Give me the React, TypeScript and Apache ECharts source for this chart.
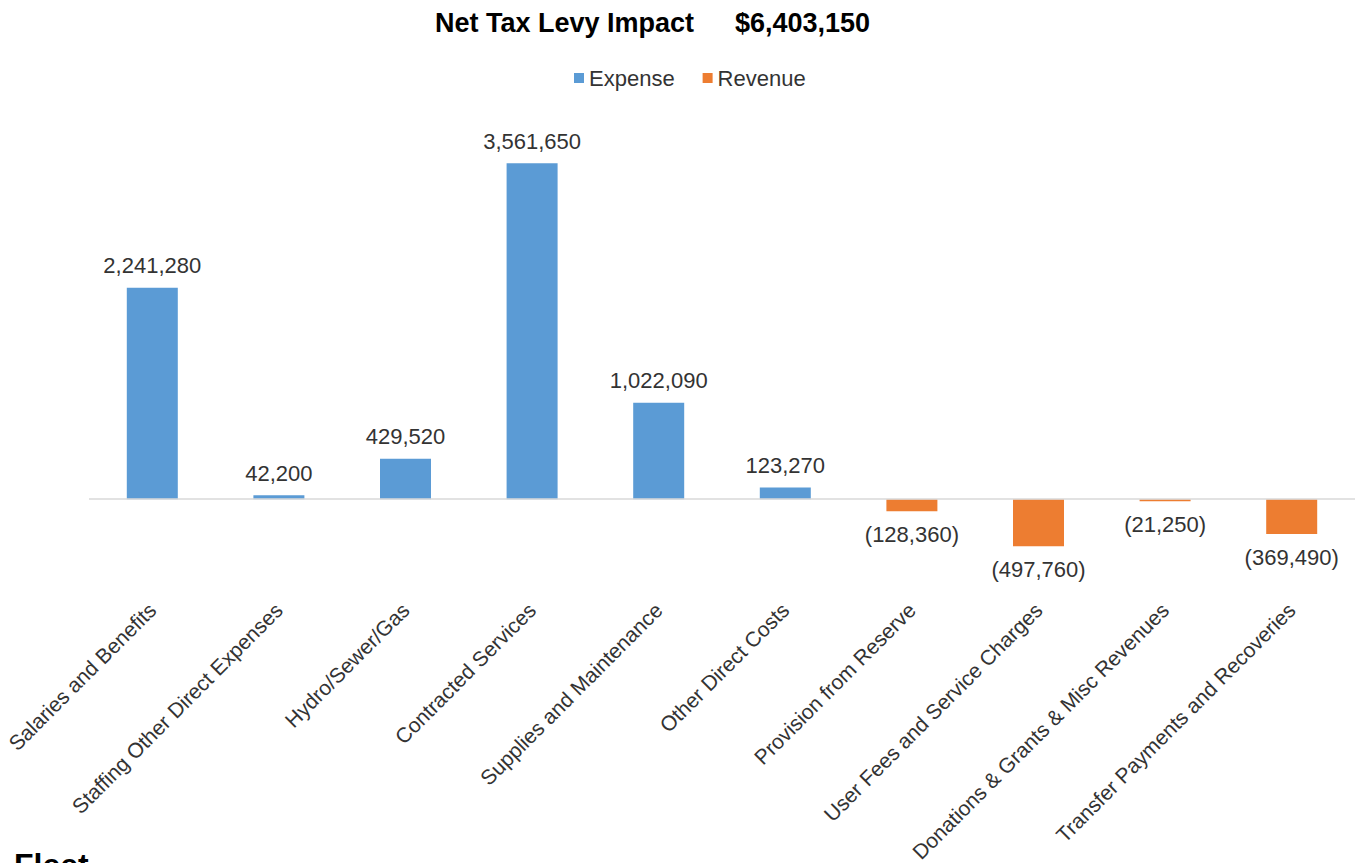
import React, { useEffect, useRef } from "react";
import * as echarts from "echarts";

const categories = [
  "Salaries and Benefits",
  "Staffing Other Direct Expenses",
  "Hydro/Sewer/Gas",
  "Contracted Services",
  "Supplies and Maintenance",
  "Other Direct Costs",
  "Provision from Reserve",
  "User Fees and Service Charges",
  "Donations & Grants & Misc Revenues",
  "Transfer Payments and Recoveries",
];

const expenseValues = [2241280, 42200, 429520, 3561650, 1022090, 123270, null, null, null, null];
const revenueValues = [null, null, null, null, null, null, -128360, -497760, -21250, -369490];

const titleText = "Net Tax Levy Impact";
const titleAmount = "$6,403,150";
const footerText = "Fleet";

const FONT = "'Liberation Sans', Arial, sans-serif";
const TEXT_COLOR = "#333333";

function fmt(v: number): string {
  const s = Math.abs(v).toLocaleString("en-US");
  return v < 0 ? "(" + s + ")" : s;
}

export default function App() {
  const ref = useRef<HTMLDivElement>(null);
  useEffect(() => {
    if (!ref.current) return;
    const chart = echarts.init(ref.current, undefined, { renderer: "svg" });
    chart.setOption({
      animation: false,
      backgroundColor: "#ffffff",
      textStyle: { fontFamily: FONT },
      title: [
        {
          text: titleText,
          left: 430,
          top: 4,
          textStyle: { fontFamily: FONT, fontSize: 27, fontWeight: "bold", color: "#000000" },
        },
        {
          text: titleAmount,
          left: 730,
          top: 4,
          textStyle: { fontFamily: FONT, fontSize: 27, fontWeight: "bold", color: "#000000" },
        },
      ],
      legend: {
        left: 569,
        top: 62,
        itemWidth: 10,
        itemHeight: 10,
        itemGap: 28,
        icon: "rect",
        textStyle: { fontFamily: FONT, fontSize: 22, color: TEXT_COLOR },
        data: ["Expense", "Revenue"],
      },
      grid: {
        left: 89,
        right: 1,
        top: 122,
        bottom: 269.5,
        containLabel: false,
        outerBoundsMode: "none",
      },
      xAxis: {
        type: "category",
        data: categories,
        axisLine: { show: false },
        axisTick: { show: false },
        axisLabel: {
          interval: 0,
          rotate: 45,
          margin: 13,
          fontFamily: FONT,
          fontSize: 21,
          color: TEXT_COLOR,
        },
      },
      yAxis: {
        type: "value",
        min: -1000000,
        max: 4000000,
        interval: 1000000,
        show: false,
        splitLine: { show: false },
      },
      series: [
        {
          name: "Expense",
          type: "bar",
          stack: "total",
          barWidth: 51,
          data: expenseValues,
          itemStyle: { color: "#5B9BD5" },
          label: {
            show: true,
            position: "top",
            distance: 11,
            fontFamily: FONT,
            fontSize: 22,
            color: TEXT_COLOR,
            formatter: (p: any) => fmt(p.value),
          },
          markLine: {
            silent: true,
            symbol: "none",
            label: { show: false },
            lineStyle: { color: "#D9D9D9", width: 1.5, type: "solid" },
            data: [{ yAxis: 0 }],
          },
        },
        {
          name: "Revenue",
          type: "bar",
          stack: "total",
          barWidth: 51,
          data: revenueValues,
          itemStyle: { color: "#ED7D31" },
          label: {
            show: true,
            position: "bottom",
            distance: 12,
            fontFamily: FONT,
            fontSize: 22,
            color: TEXT_COLOR,
            formatter: (p: any) => fmt(p.value),
          },
        },
      ],
      graphic: [
        {
          type: "text",
          left: 14,
          top: 849,
          style: {
            text: footerText,
            fontFamily: FONT,
            fontSize: 32,
            fontWeight: "bold",
            fill: "#000000",
          },
        },
      ],
    });
    return () => chart.dispose();
  }, []);
  return <div ref={ref} style={{ width: 1356, height: 863, position: "absolute", left: 0, top: 0 }} />;
}
